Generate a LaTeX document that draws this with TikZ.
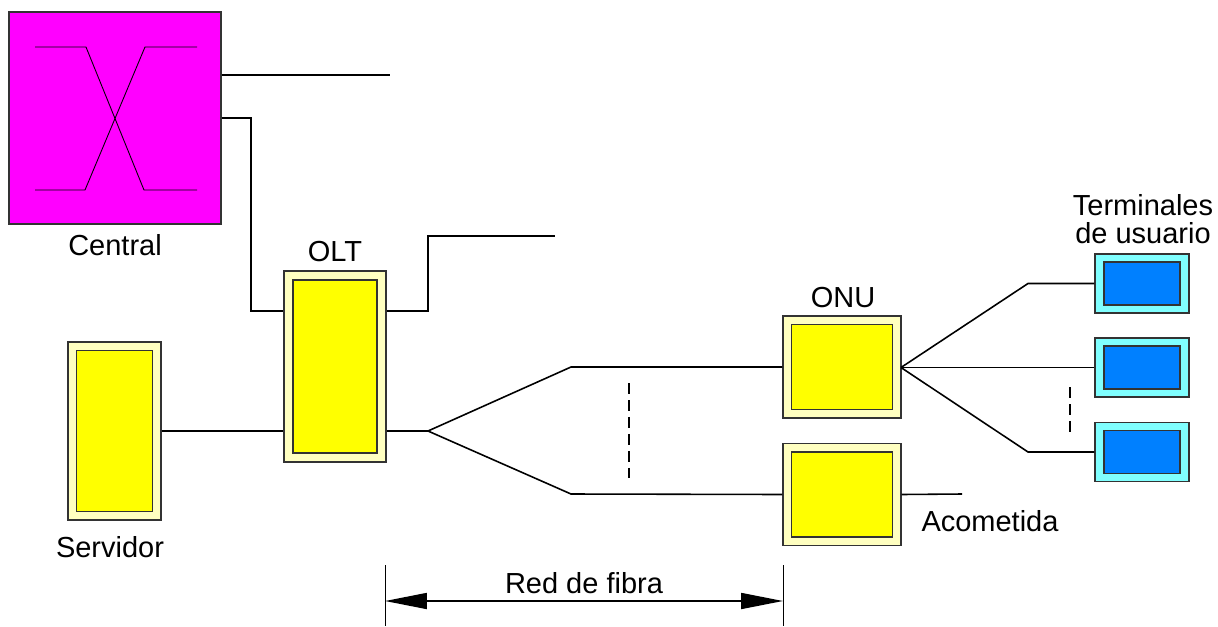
\documentclass[tikz,border=0pt]{standalone}
\usepackage{fontspec}
\setmainfont{Liberation Sans}
\usetikzlibrary{arrows.meta}
\definecolor{paley}{HTML}{FFFFC0}
\definecolor{yel}{HTML}{FFFF00}
\definecolor{mag}{HTML}{FF00FF}
\definecolor{cyanl}{HTML}{80FFFF}
\definecolor{bluet}{HTML}{0080FF}
\begin{document}
\begin{tikzpicture}[
  x=0.02cm, y=-0.02cm,
  line width=0.9pt,
  outer/.style={draw=black!80, line width=0.6pt, fill=paley, inner sep=0pt},
  inner/.style={draw=black!80, line width=0.6pt, fill=yel, inner sep=0pt},
  termout/.style={draw=black!80, line width=0.6pt, fill=cyanl, inner sep=0pt, minimum width=1.88cm, minimum height=1.18cm},
  termin/.style={draw=black!80, line width=0.6pt, fill=bluet, inner sep=0pt, minimum width=1.52cm, minimum height=0.86cm},
  lbl/.style={font=\fontsize{16.5}{16}\selectfont, inner sep=0pt, align=center},
  dotline/.style={dash pattern=on 0.22cm off 0.12cm}
]
\useasboundingbox (0,0) rectangle (1218,626);

% central
\node[draw=black!80, line width=0.6pt, fill=mag, inner sep=0pt, minimum size=4.24cm] (central) at (115,118) {};
\draw[line width=0.5pt] (35,47) -- (86,47) -- (144,190) -- (197,190);
\draw[line width=0.5pt] (35,190) -- (85,190) -- (145,47) -- (197,47);
\node[lbl] (centrallbl) at (115,245) {Central};

% servidor and olt
\node[outer, minimum width=1.86cm, minimum height=3.56cm] (serv) at (114.5,431) {};
\node[inner, minimum width=1.52cm, minimum height=3.22cm] (servin) at (serv.center) {};
\node[lbl] (servlbl) at (110,547) {Servidor};

\node[outer, minimum width=2.04cm, minimum height=3.82cm] (olt) at (335,366.5) {};
\node[inner, minimum width=1.68cm, minimum height=3.46cm] (oltin) at (olt.center) {};
\node[lbl] (oltlbl) at (335,252) {OLT};

% onus
\node[outer, minimum width=2.36cm, minimum height=2.04cm] (onu) at (842,367) {};
\node[inner, minimum width=2.02cm, minimum height=1.70cm] (onuin) at (onu.center) {};
\node[lbl] (onulbl) at (843,298) {ONU};

\node[outer, minimum width=2.36cm, minimum height=2.04cm] (onub) at (842,494.5) {};
\node[inner, minimum width=2.02cm, minimum height=1.70cm] (onubin) at (onub.center) {};
\node[lbl] (acolbl) at (990,521) {Acometida};

% terminales
\node[termout] (t1) at (1142,283.5) {};
\node[termin] (t1in) at (t1.center) {};
\node[termout] (t2) at (1142,367.5) {};
\node[termin] (t2in) at (t2.center) {};
\node[termout] (t3) at (1142,452) {};
\node[termin] (t3in) at (t3.center) {};
\node[lbl] (termlbl) at (1143,219) {Terminales\\de usuario};

% points
\coordinate (freeA) at (390,75);
\coordinate (bendA) at (251,311);
\coordinate (bendB) at (428,236);
\coordinate (freeB) at (555,236);
\coordinate (split) at (428,431);
\coordinate (brU) at (571,367);
\coordinate (brD) at (571,494);
\coordinate (acoend) at (962,494);
\coordinate (tsplit) at (901,367.5);
\coordinate (tU) at (1028,283.5);
\coordinate (tD) at (1028,452);

% links
\draw (central.east |- freeA) -- (freeA);
\draw (central.east) -| (bendA) -- (olt.west |- bendA);
\draw (olt.east |- bendA) -| (bendB) -- (freeB);
\draw (serv.east) -- (olt.west |- serv.east);
\draw (olt.east |- split) -- (split);
\draw (split) -- (brU) -- (onu.west);
\draw (split) -- (brD) -- (onub.west);
\draw (onub.east) -- (acoend);
\draw (tsplit) -- (tU) -- (t1.west);
\draw (tsplit) -- (t2.west);
\draw (tsplit) -- (tD) -- (t3.west);
\draw[dotline] (629,383) -- (629,478);
\draw[dotline] (1070,387) -- (1070,433);

% red de fibra
\coordinate (dimL) at (385,601);
\coordinate (dimR) at (783,601);
\draw[line width=0.4pt] (385,565) -- (385,626);
\draw[line width=0.4pt] (783,565) -- (783,626);
\draw[line width=1pt, {Triangle[length=0.84cm,width=0.32cm]}-{Triangle[length=0.84cm,width=0.32cm]}] (dimL) -- (dimR);
\node[lbl] (fibralbl) at (584,583) {Red de fibra};
\end{tikzpicture}
\end{document}
